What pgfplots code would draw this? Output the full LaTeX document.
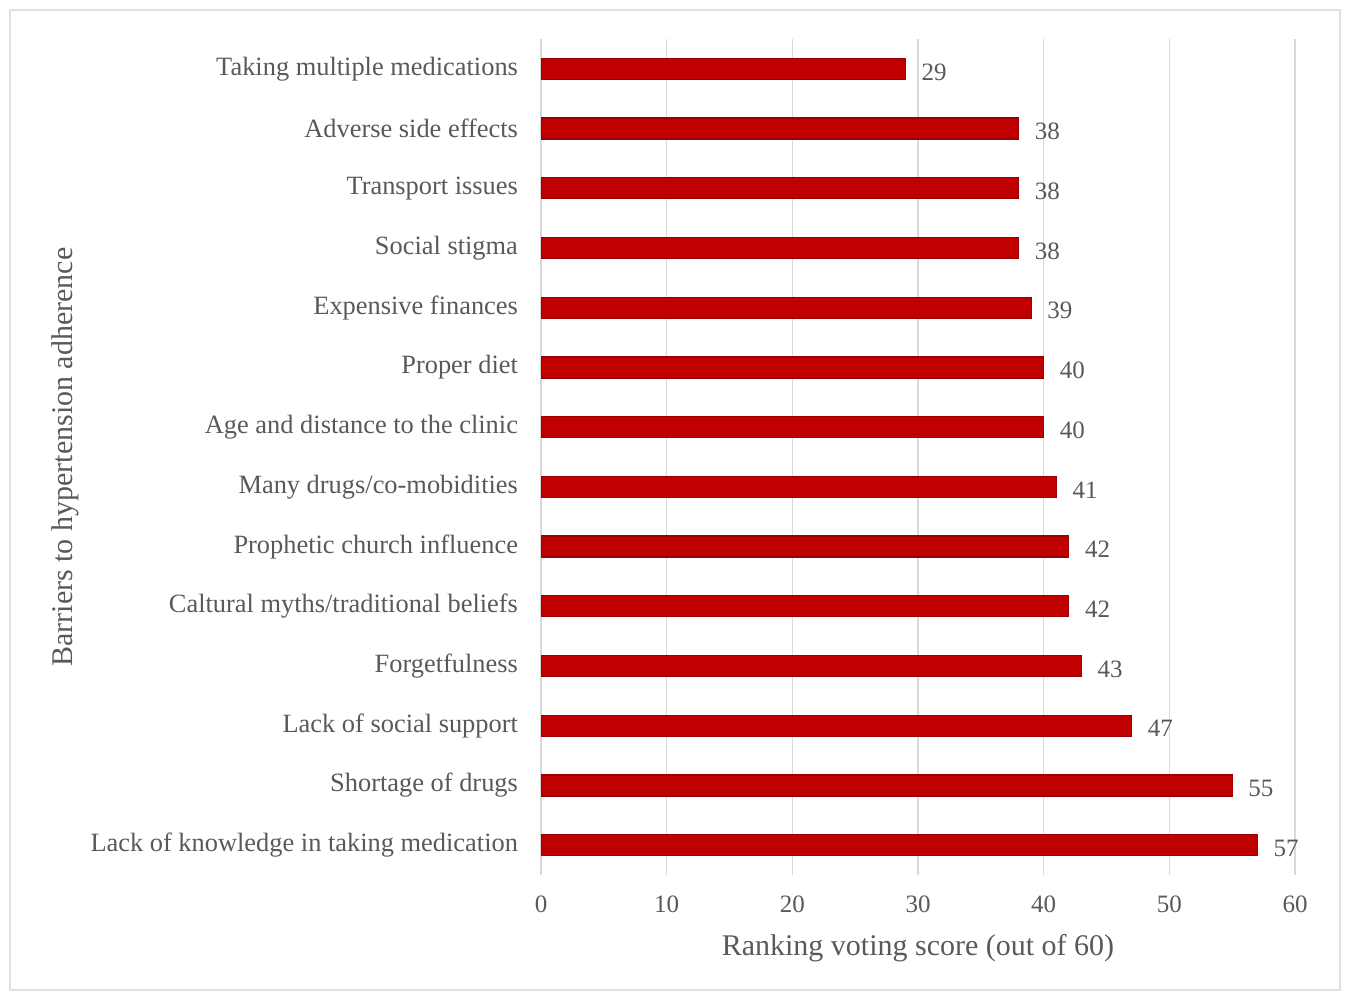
\documentclass[border=0pt]{standalone}
\usepackage{pgfplots}
\pgfplotsset{compat=1.18}
\usepackage{pgfplotstable}
\usepackage{fontspec}
\setmainfont{Liberation Serif}
\definecolor{barred}{HTML}{C00000}
\definecolor{baredge}{HTML}{9A0000}
\definecolor{txt}{HTML}{595959}
\definecolor{grd}{HTML}{D9D9D9}
\pgfplotstableread[col sep=comma]{
y,v
0,57
1,55
2,47
3,43
4,42
5,42
6,41
7,40
8,40
9,39
10,38
11,38
12,38
13,29
}\datatab
\begin{document}
\begin{tikzpicture}
\path[use as bounding box] (0,0) rectangle (674.5pt,499pt);
\draw[color=grd!80!white, line width=0.8pt] (5pt,4pt) rectangle (670pt,494pt);
\begin{axis}[
  at={(270.5pt,61.5pt)}, anchor=south west,
  scale only axis, width=377pt, height=418pt,
  xbar, bar width=10.5pt,
  xmin=0, xmax=60, ymin=-0.5, ymax=13.5,
  xtick={0,10,...,60},
  ytick={0,...,13},
  yticklabels={Lack of knowledge in taking medication,Shortage of drugs,Lack of social support,Forgetfulness,Caltural myths/traditional beliefs,Prophetic church influence,Many drugs/co-mobidities,Age and distance to the clinic,Proper diet,Expensive finances,Social stigma,Transport issues,Adverse side effects,Taking multiple medications},
  axis line style={draw=none},
  major tick length=0pt,
  xmajorgrids, grid style={grd, line width=0.6pt},
  /pgf/number format/assume math mode=true,
  tick label style={font=\fontsize{12.5}{14}\selectfont, text=txt},
  yticklabel style={xshift=-8pt, font=\fontsize{13.2}{15}\selectfont},
  xticklabel style={yshift=-7pt},
  xlabel={Ranking voting score (out of 60)},
  ylabel={Barriers to hypertension adherence},
  label style={font=\fontsize{15}{17}\selectfont, text=txt},
  xlabel style={at={(axis description cs:0.5,-0.088)}, anchor=center},
  ylabel style={at={(axis description cs:-0.631,0.5)}, anchor=center, rotate=0},
  nodes near coords,
  nodes near coords style={font=\fontsize{12.5}{14}\selectfont, text=txt, anchor=west, xshift=4.5pt, yshift=-1.5pt},
  point meta=explicit,
]
\addplot[fill=barred, draw=baredge, line width=0.6pt] table[x=v, y=y, meta=v] {\datatab};
\end{axis}
\end{tikzpicture}
\end{document}
